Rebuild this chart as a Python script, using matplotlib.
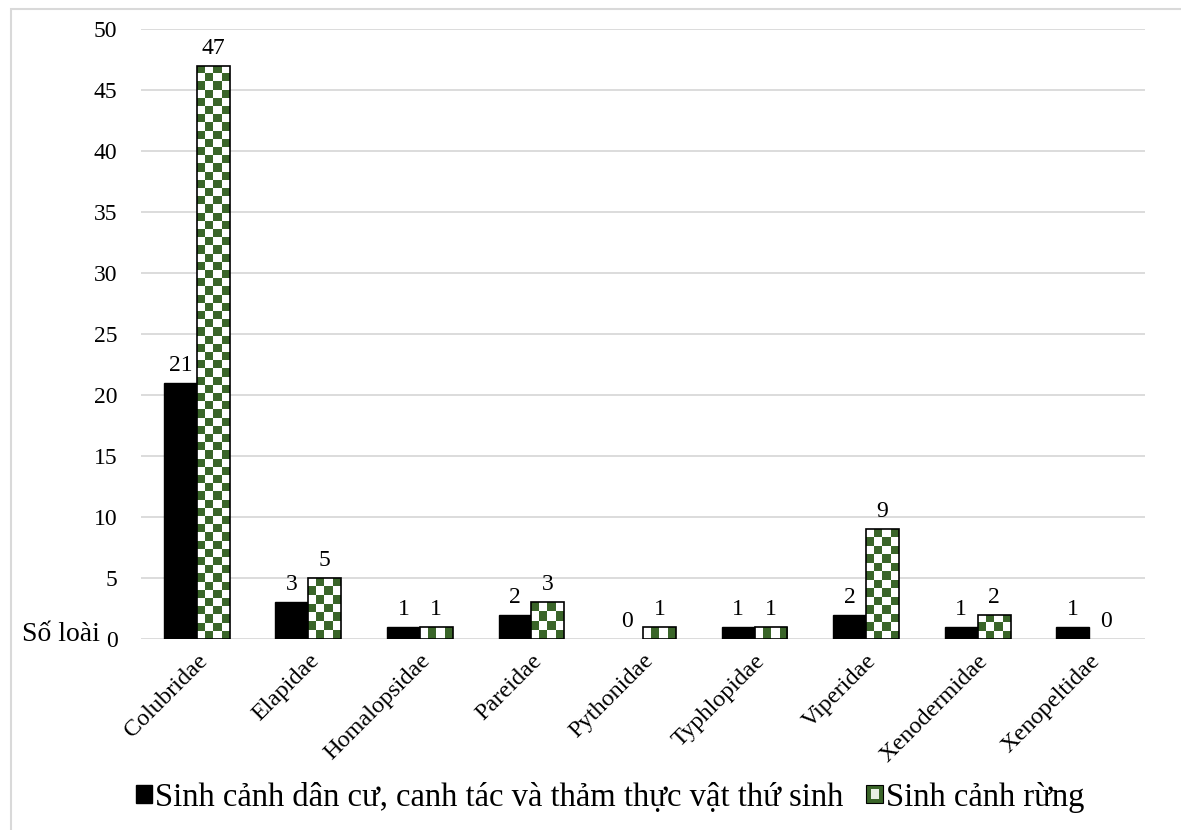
import numpy as np
import matplotlib
matplotlib.use("Agg")
import matplotlib.pyplot as plt
from matplotlib.patches import Rectangle
from matplotlib.legend_handler import HandlerPatch

plt.rcParams['font.family'] = ['Liberation Serif', 'DejaVu Serif']

families = ["Colubridae", "Elapidae", "Homalopsidae", "Pareidae", "Pythonidae",
            "Typhlopidae", "Viperidae", "Xenodermidae", "Xenopeltidae"]
settled = [21, 3, 1, 2, 0, 1, 2, 1, 1]
forest = [47, 5, 1, 3, 1, 1, 9, 2, 0]
series_names = ["Sinh cảnh dân cư, canh tác và thảm thực vật thứ sinh",
                "Sinh cảnh rừng"]
y_label = "Số loài"
y_ticks = [0, 5, 10, 15, 20, 25, 30, 35, 40, 45, 50]

GREEN = "#3a6529"
W, H, DPI = 1181, 830, 100

fig = plt.figure(figsize=(W / DPI, H / DPI), dpi=DPI)
ax = fig.add_axes([141 / W, (H - 639) / H, (1145 - 141) / W, (639 - 29) / H])

x = np.arange(len(families))
bw = 0.295

ax.grid(axis='y', color='#d9d9d9', linewidth=1.3)
ax.set_axisbelow(True)
for s in ax.spines.values():
    s.set_visible(False)
ax.tick_params(axis='both', length=0, labelsize=17)
ax.tick_params(axis='y', pad=17)

# solid black bars
b1 = ax.bar(x - bw / 2, settled, bw, color='black', edgecolor='black',
            linewidth=1, zorder=2)

# checkered green bars: outline bar with a checker image clipped inside
b2 = ax.bar(x + bw / 2, forest, bw, facecolor='none', edgecolor='black',
            linewidth=1.2, zorder=3)

# empty bars get no outline
for rect, val in list(zip(b1, settled)) + list(zip(b2, forest)):
    if val == 0:
        rect.set_linewidth(0)

px_per_unit = (639 - 29) / 50.0
cell_px = 8.2
cmap = matplotlib.colors.ListedColormap(['white', GREEN])
for rect, val in zip(b2, forest):
    if val <= 0:
        continue
    x0 = rect.get_x()
    w = rect.get_width()
    ncols = 4
    nrows = max(1, int(round(val * px_per_unit / cell_px)))
    ii, jj = np.meshgrid(np.arange(ncols), np.arange(nrows))
    board = ((ii + jj) % 2).astype(float)
    im = ax.imshow(board, extent=(x0, x0 + w, 0, val), origin='lower',
                   cmap=cmap, aspect='auto', interpolation='nearest',
                   zorder=2.5, vmin=0, vmax=1)
    im.set_clip_path(rect)

ax.set_xlim(-0.5, len(families) - 0.5)
ax.set_ylim(0, 50)
ax.set_yticks(y_ticks)

# value labels
for xi, v in zip(x, settled):
    ax.annotate(str(v), (xi - bw / 2, v), xytext=(0, 5), textcoords='offset points',
                ha='center', va='bottom', fontsize=17)
for xi, v in zip(x, forest):
    ax.annotate(str(v), (xi + bw / 2, v), xytext=(0, 5), textcoords='offset points',
                ha='center', va='bottom', fontsize=17)

ax.set_xticks(x)
ax.set_xticklabels(families, rotation=45, ha='right', rotation_mode='anchor',
                   fontsize=17.5)
ax.tick_params(axis='x', pad=8)

fig.text(22 / W, (H - 634) / H, y_label, fontsize=20, ha='left', va='center')

# figure border
fig.add_artist(Rectangle((11 / W, -0.1), 1.2, (H - 9) / H + 0.1,
                         transform=fig.transFigure, fill=False,
                         edgecolor='#d9d9d9', linewidth=1.5))


class CheckerHandle(HandlerPatch):
    def create_artists(self, legend, orig_handle, xdescent, ydescent, width,
                       height, fontsize, trans):
        outer = Rectangle((-xdescent, -ydescent), width, height,
                          facecolor=GREEN, edgecolor='black', linewidth=0.8,
                          transform=trans)
        inner = Rectangle((-xdescent + width * 0.25, -ydescent + height * 0.25),
                          width * 0.5, height * 0.5, facecolor='#e8efe4',
                          edgecolor='none', transform=trans)
        return [outer, inner]


h1 = Rectangle((0, 0), 1, 1, facecolor='black', edgecolor='black')
h2 = Rectangle((0, 0), 1, 1, facecolor=GREEN, edgecolor='black')
fig.legend([h1, h2], series_names, loc='center', ncol=2,
           bbox_to_anchor=(610 / W, (H - 797) / H), frameon=False, fontsize=23.5,
           handlelength=0.5, handleheight=0.5, handletextpad=0.1,
           columnspacing=0.7, handler_map={h2: CheckerHandle()})

fig.savefig("out.png", dpi=DPI)
